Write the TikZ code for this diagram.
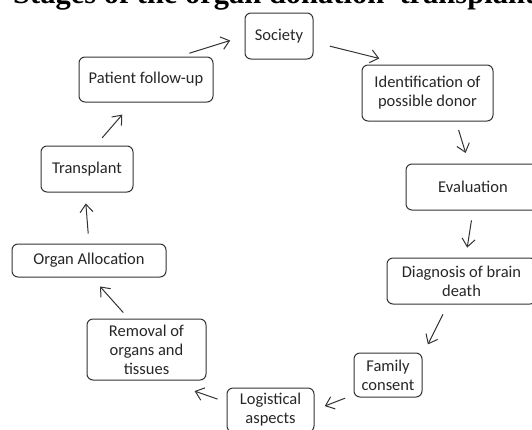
\documentclass[tikz,border=0pt]{standalone}
\usepackage{fontspec}
\setmainfont{Carlito}
\newfontfamily\titlefont{Liberation Serif}
\usetikzlibrary{arrows.meta}

\tikzset{
	stage/.style={draw=black!80, line width=1pt, rounded corners=6pt, align=center, inner sep=0pt, text=black!85, font=\fontsize{16.5}{19}\selectfont},
	flow/.style={draw=black!80, line width=1pt, -{Straight Barb[length=8pt,width=13pt]}}
}

\begin{document}
\begin{tikzpicture}[x=1pt, y=-1pt]
	% Frame of the picture
	\path[use as bounding box, clip] (0,0) rectangle (532,429);

	% Title, cut off at the top
	\node[anchor=base west, inner sep=0pt, font=\titlefont\bfseries\fontsize{30.5}{30.5}\selectfont] (title) at (13,3) {Stages of the organ donation–transplant};

	% Draw the stages of the cycle
	\node[stage, minimum width=68pt, minimum height=46pt] (society) at (279,36) {Society};
	\node[stage, minimum width=131pt, minimum height=56pt] (ident) at (427.5,93) {Identification of\\possible donor};
	\node[stage, minimum width=134pt, minimum height=46pt] (eval) at (473,187) {Evaluation};
	\node[stage, minimum width=149pt, minimum height=46pt] (diag) at (461.5,281) {Diagnosis of brain\\death};
	\node[stage, minimum width=68pt, minimum height=44pt] (family) at (388,375) {Family\\consent};
	\node[stage, minimum width=87pt, minimum height=44pt] (logist) at (270.5,410) {Logistical\\aspects};
	\node[stage, minimum width=119pt, minimum height=61pt] (removal) at (146.5,349.5) {Removal of\\organs and\\tissues};
	\node[stage, minimum width=154pt, minimum height=33pt] (alloc) at (89,260.5) {Organ Allocation};
	\node[stage, minimum width=92pt, minimum height=46pt] (transpl) at (87,169) {Transplant};
	\node[stage, minimum width=134pt, minimum height=45pt] (follow) at (146,79.5) {Patient follow-up};

	% Draw the arrows between the stages
	\draw[flow, shorten <=11pt, shorten >=15pt] (follow.35) -- (society.west);
	\draw[flow, shorten <=17pt, shorten >=25pt] (society.-10) -- (ident.130);
	\draw[flow, shorten <=9pt, shorten >=11pt] (ident.-45) -- (eval.100);
	\draw[flow, shorten <=10pt, shorten >=10pt] (eval.south) -- (diag.80);
	\draw[flow, shorten <=11pt, shorten >=12pt] (diag.-120) -- (family.30);
	\draw[flow, shorten <=9pt, shorten >=11pt] (family.-150) -- (logist.east);
	\draw[flow, shorten <=9.5pt, shorten >=32pt] (logist.170) -- (removal.-60);
	\draw[flow, shorten <=8pt, shorten >=12pt] (removal.120) -- (alloc.-80);
	\draw[flow, shorten <=10pt, shorten >=11pt] (alloc.north) -- (transpl.-95);
	\draw[flow, shorten <=10pt, shorten >=16pt] (transpl.70) -- (follow.-120);
\end{tikzpicture}
\end{document}
